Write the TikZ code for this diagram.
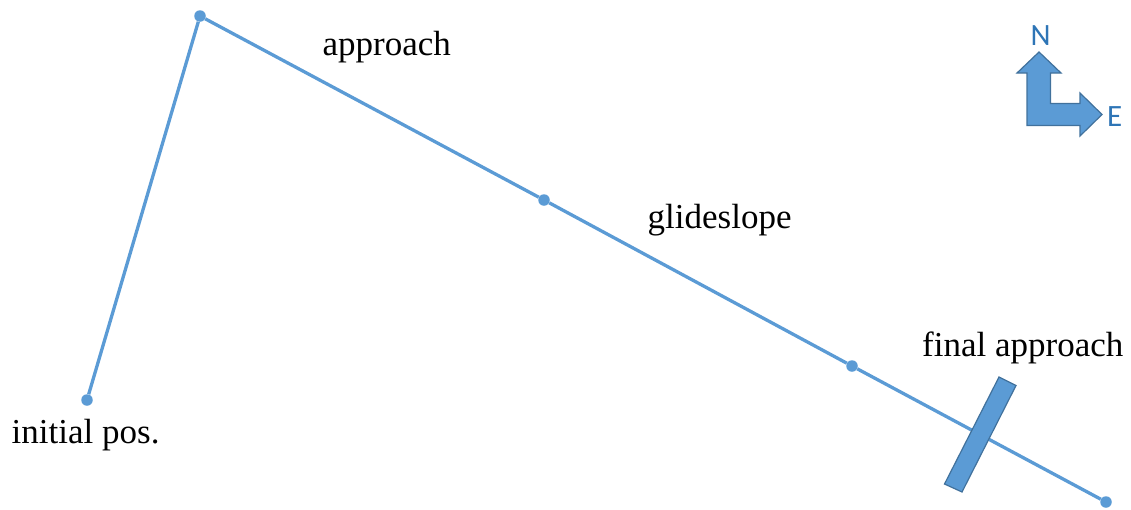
\documentclass[tikz,border=0pt]{standalone}
\usepackage{fontspec}
\setmainfont{Liberation Serif}
\newfontfamily\labelsans{Carlito}
\definecolor{pathblue}{RGB}{91,155,213}
\definecolor{edgeblue}{RGB}{65,113,156}
\definecolor{textblue}{RGB}{46,117,182}
\begin{document}
\begin{tikzpicture}[x=1pt,y=-1pt,
  wpt/.style={circle,fill=pathblue,inner sep=0pt,minimum size=11.5pt},
  leg/.style={draw=pathblue,line width=3.3pt},
  lbl/.style={anchor=base west,inner sep=0pt,font=\fontsize{35}{40}\selectfont},
  dirlbl/.style={anchor=base west,inner sep=0pt,text=textblue,font=\labelsans\fontsize{31}{36}\selectfont},
  bluefill/.style={fill=pathblue,draw=edgeblue,line width=1.2pt,line join=miter}]
\useasboundingbox (0,0) rectangle (1131,509);
% waypoints
\node[wpt] (init) at (87,400) {};
\node[wpt] (top) at (200,16) {};
\node[wpt] (mid) at (544,200) {};
\node[wpt] (fin) at (852,366) {};
\node[wpt] (end) at (1106,502) {};
% legs
\draw[leg] (init) -- (top) -- (mid) -- (fin) -- (end);
% runway marker
\filldraw[bluefill] (999,377) -- (1016,385.5) -- (962,492) -- (944.5,484) -- cycle;
% labels
\node[lbl] (lapp) at (322.5,55) {approach};
\node[lbl] (lglide) at (647.5,228.3) {glideslope};
\node[lbl] (lfin) at (922,356.7) {final approach};
\node[lbl] (linit) at (11.5,443.3) {initial pos.};
% compass
\filldraw[bluefill] (1039,52) -- (1061,73) -- (1050.5,73) -- (1050.5,103.5) -- (1080,103.5) -- (1080,93) -- (1102,114.5) -- (1080,136) -- (1080,125.5) -- (1027,125.5) -- (1027,73) -- (1017,73) -- cycle;
\node[dirlbl] (north) at (1030.5,45) {N};
\node[dirlbl] (east) at (1107,126) {E};
\end{tikzpicture}
\end{document}
